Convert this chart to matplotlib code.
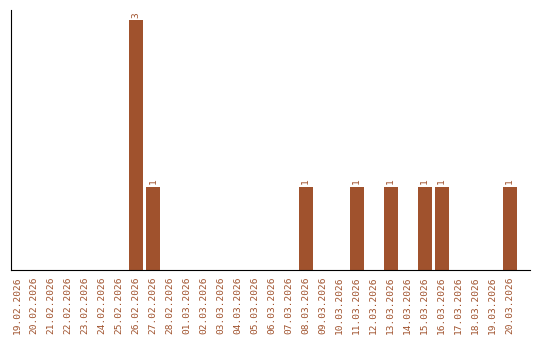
import matplotlib
matplotlib.use("Agg")
import matplotlib.pyplot as plt

dates = ["19.02.2026", "20.02.2026", "21.02.2026", "22.02.2026", "23.02.2026",
         "24.02.2026", "25.02.2026", "26.02.2026", "27.02.2026", "28.02.2026",
         "01.03.2026", "02.03.2026", "03.03.2026", "04.03.2026", "05.03.2026",
         "06.03.2026", "07.03.2026", "08.03.2026", "09.03.2026", "10.03.2026",
         "11.03.2026", "12.03.2026", "13.03.2026", "14.03.2026", "15.03.2026",
         "16.03.2026", "17.03.2026", "18.03.2026", "19.03.2026", "20.03.2026"]
counts = [0, 0, 0, 0, 0, 0, 0, 3, 1, 0,
          0, 0, 0, 0, 0, 0, 0, 1, 0, 0,
          1, 0, 1, 0, 1, 1, 0, 0, 0, 1]

col = "#A0522D"
fig = plt.figure(figsize=(5.4, 3.4), dpi=100)
ax = fig.add_axes([0.0204, 0.206, 0.961, 0.764])

x = list(range(len(dates)))
ax.bar(x, counts, width=0.82, color=col)
for i, c in enumerate(counts):
    if c > 0:
        ax.text(i, c + 0.03, str(c), rotation=90, ha="center", va="bottom",
                color=col, fontsize=6.8, family="DejaVu Sans Mono")

ax.set_xlim(-0.35, 30.2)
ax.set_ylim(0, 3.12)
ax.set_xticks(x)
ax.set_xticklabels(dates, rotation=90, color=col, fontsize=6.8, family="DejaVu Sans Mono")
ax.tick_params(axis="x", length=0, pad=5)
ax.set_yticks([])
ax.spines["top"].set_visible(False)
ax.spines["right"].set_visible(False)

fig.savefig("out.png", dpi=100)
